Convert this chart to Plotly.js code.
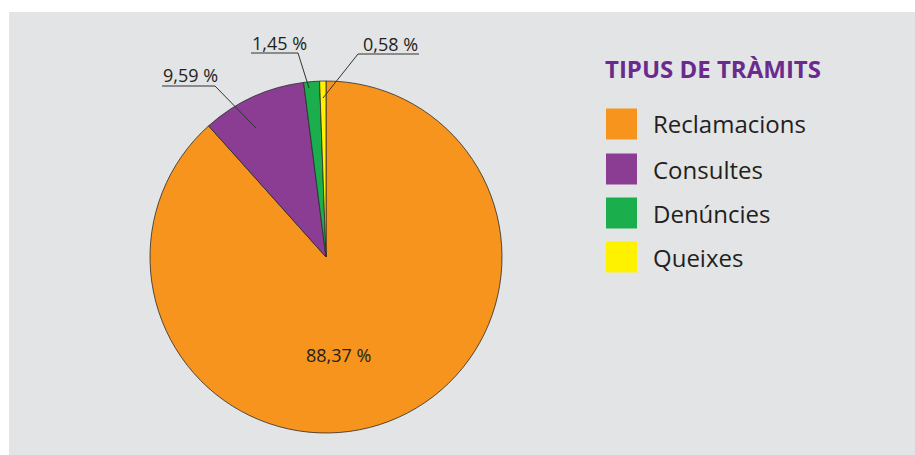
<!DOCTYPE html>
<html>
<head>
<meta charset="utf-8">
<script src="https://cdn.plot.ly/plotly-3.0.1.min.js"></script>
<style>
html,body{margin:0;padding:0;background:#fff;}
#chart{width:915px;height:455px;}
</style>
</head>
<body>
<div id="chart"></div>
<script>
// ---- Data ----
const categories = ["Reclamacions", "Consultes", "Denúncies", "Queixes"];
const values = [88.37, 9.59, 1.45, 0.58];
const colors = ["#f7941d", "#8b3d93", "#1aae4c", "#fff200"];
const legendTitle = "TIPUS DE TRÀMITS";

// ---- Helpers ----
const W = 915, H = 455;
const px = x => x / W;
const py = y => 1 - y / H;
const fmt = v => v.toFixed(2).replace('.', ',') + ' %';
const textColor = "#231f20";
const FONT = "Open Sans, sans-serif";

const trace = {
  type: 'pie',
  labels: categories,
  values: values,
  sort: false,
  direction: 'clockwise',
  rotation: 0,
  marker: {colors: colors, line: {color: '#2b2b2b', width: 0.8}},
  textinfo: 'none',
  hoverinfo: 'label+percent',
  showlegend: false,
  domain: {x: [px(150), px(502)], y: [py(433), py(81)]}
};

const shapes = [
  // grey panel
  {type: 'rect', xref: 'paper', yref: 'paper', x0: px(9), x1: px(915), y0: py(455), y1: py(12),
   fillcolor: '#e3e4e6', line: {width: 0}, layer: 'below'}
];
const annotations = [];

// Outside labels with underline and leader line
const outside = [
  {i: 1, tx: 161, ty: 75, ux0: 162, ux1: 215, uy: 86, lx: 256, ly: 128},
  {i: 2, tx: 250, ty: 43, ux0: 251, ux1: 298, uy: 53, lx: 309, ly: 88},
  {i: 3, tx: 361, ty: 44, ux0: 358, ux1: 419, uy: 54, lx: 323, ly: 98}
];
outside.forEach(o => {
  annotations.push({xref: 'paper', yref: 'paper', x: px(o.tx), y: py(o.ty), xanchor: 'left', yanchor: 'middle',
    text: fmt(values[o.i]), showarrow: false, font: {family: FONT, size: 18, color: textColor}});
  shapes.push({type: 'line', xref: 'paper', yref: 'paper', x0: px(o.ux0), x1: px(o.ux1), y0: py(o.uy), y1: py(o.uy),
    line: {color: '#333', width: 1}});
  const sx = (o.i === 3) ? o.ux0 : o.ux1;
  shapes.push({type: 'line', xref: 'paper', yref: 'paper', x0: px(sx), x1: px(o.lx), y0: py(o.uy), y1: py(o.ly),
    line: {color: '#333', width: 1}});
});
// inside label
annotations.push({xref: 'paper', yref: 'paper', x: px(338), y: py(355), xanchor: 'center', yanchor: 'middle',
  text: fmt(values[0]), showarrow: false, font: {family: FONT, size: 18, color: textColor}});

// Legend
annotations.push({xref: 'paper', yref: 'paper', x: px(603), y: py(68), xanchor: 'left', yanchor: 'middle',
  text: '<b>' + legendTitle + '</b>', showarrow: false, font: {family: FONT, size: 24, color: '#6b2a8e'}});
const rowY = [124, 169, 213, 257];
categories.forEach((c, k) => {
  shapes.push({type: 'rect', xref: 'paper', yref: 'paper', x0: px(606), x1: px(637),
    y0: py(rowY[k] + 15.5), y1: py(rowY[k] - 15.5), fillcolor: colors[k], line: {width: 0}});
  annotations.push({xref: 'paper', yref: 'paper', x: px(651), y: py(rowY[k]), xanchor: 'left', yanchor: 'middle',
    text: c, showarrow: false, font: {family: FONT, size: 24, color: textColor}});
});

const layout = {
  width: W, height: H,
  margin: {l: 0, r: 0, t: 0, b: 0},
  paper_bgcolor: '#ffffff',
  showlegend: false,
  shapes: shapes,
  annotations: annotations
};

Plotly.newPlot('chart', [trace], layout, {displayModeBar: false, staticPlot: true});
</script>
</body>
</html>
